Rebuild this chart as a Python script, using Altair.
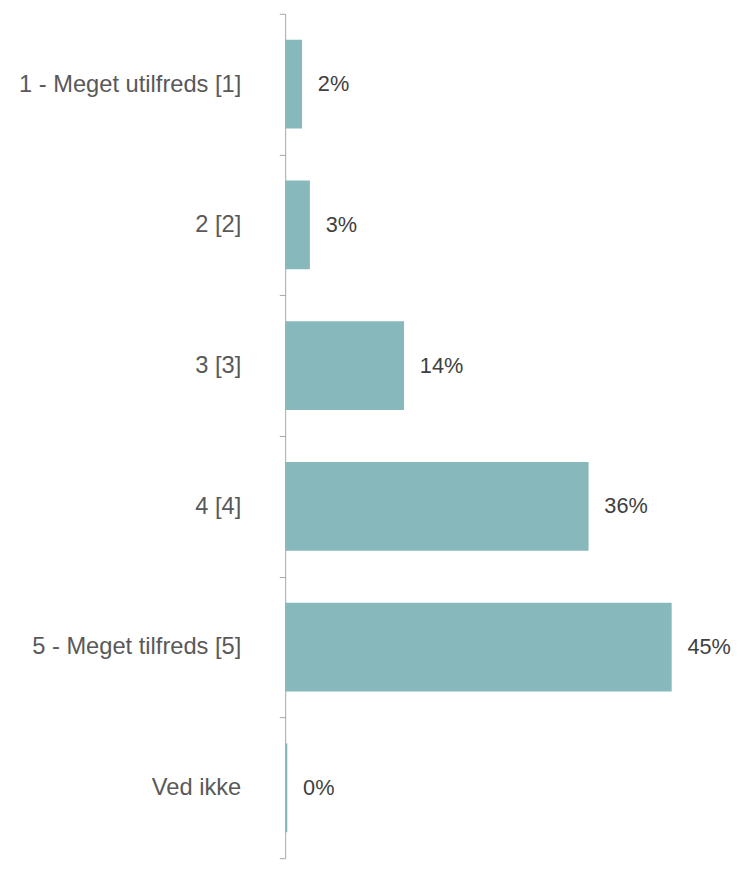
import altair as alt
import pandas as pd

categories = ["1 - Meget utilfreds [1]", "2 [2]", "3 [3]", "4 [4]", "5 - Meget tilfreds [5]", "Ved ikke"]
values = [1.98, 2.9, 13.95, 35.6, 45.35, 0.25]
labels = ["2%", "3%", "14%", "36%", "45%", "0%"]

df = pd.DataFrame({"cat": categories, "val": values, "lab": labels})

FONT = "Liberation Sans"

y_enc = alt.Y(
    "cat:N",
    sort=categories,
    title=None,
    scale=alt.Scale(paddingInner=0, paddingOuter=0),
    axis=alt.Axis(
        tickBand="extent",
        tickSize=6,
        tickColor="#A6A6A6",
        domainColor="#A6A6A6",
        labelPadding=39,
        labelFont=FONT,
        labelFontSize=24,
        labelColor="#595959",
        labelLimit=400,
        grid=False,
    ),
)
x_enc = alt.X("val:Q", scale=alt.Scale(domain=[0, 50]), axis=None)

bars = alt.Chart(df).mark_bar(color="#87B8BC", size=90).encode(y=y_enc, x=x_enc)
text = alt.Chart(df).mark_text(
    align="left", baseline="middle", dx=16, font=FONT, fontSize=22, color="#404040"
).encode(y=alt.Y("cat:N", sort=categories), x=alt.X("val:Q"), text="lab:N")

chart = (
    alt.layer(bars, text)
    .properties(
        width=432,
        height=856,
        autosize=alt.AutoSizeParams(type="none"),
        padding={"left": 281, "top": 0, "right": 22, "bottom": 0},
    )
    .configure_view(stroke=None)
)

chart.save("out.html", embed_options={"renderer": "svg", "actions": False})
